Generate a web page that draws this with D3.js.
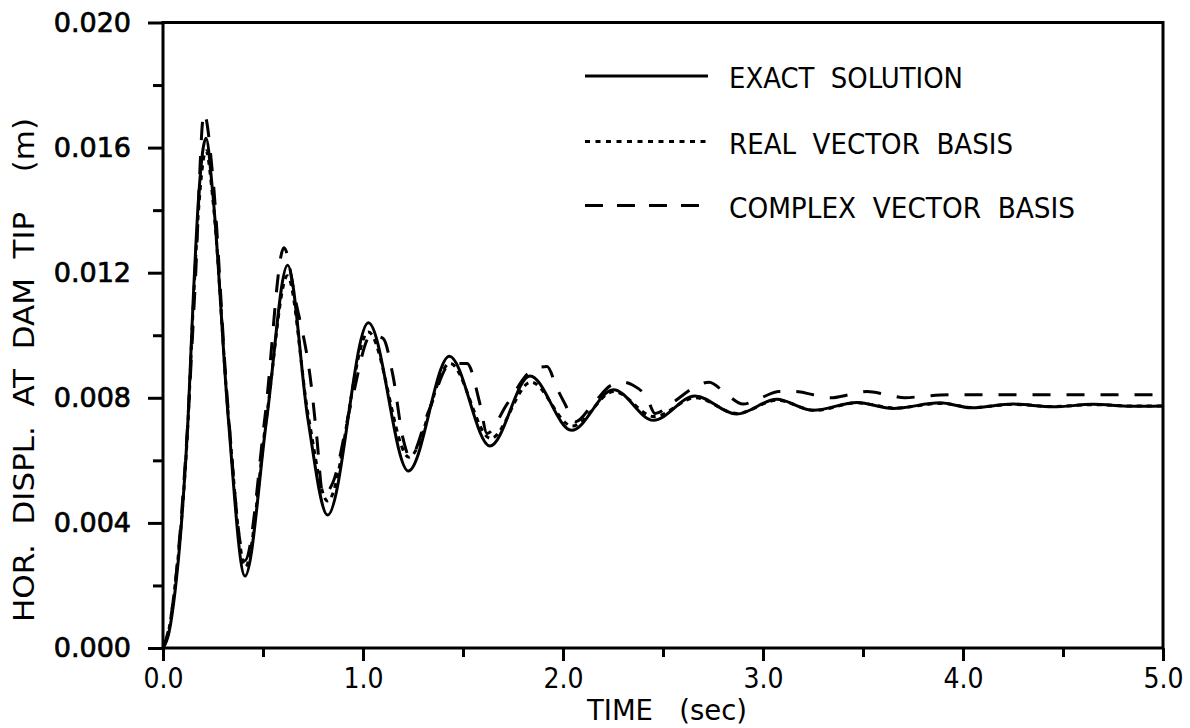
<!DOCTYPE html>
<html>
<head>
<meta charset="utf-8">
<script src="https://cdn.jsdelivr.net/npm/d3@7"></script>
<style>
  body { margin: 0; background: #fff; }
  svg { display: block; }
  .narrow { font-family: "Liberation Sans Narrow", "DejaVu Sans Condensed", "Liberation Sans", sans-serif; white-space: pre; }
</style>
</head>
<body>
<script>
// values (time in sec, displacement in m)
const timeExact = [0, 0.03, 0.06, 0.09, 0.125, 0.15, 0.18, 0.215, 0.248, 0.327, 0.41, 0.518, 0.623, 0.725, 0.823, 1.027, 1.227, 1.432, 1.635, 1.835, 2.043, 2.252, 2.452, 2.66, 2.868, 3.068, 3.25, 3.47, 3.65, 3.885, 4.04, 4.25, 4.45, 4.65, 4.84, 5.0];
const dispExact = [0, 0.0005, 0.0018, 0.0038, 0.0073, 0.0110, 0.0146, 0.0163, 0.0146, 0.0073, 0.0023, 0.0073, 0.01224, 0.0073, 0.00425, 0.0104, 0.00566, 0.00933, 0.00646, 0.0087, 0.00696, 0.00826, 0.00728, 0.00806, 0.00748, 0.00795, 0.0076, 0.00785, 0.00766, 0.00784, 0.00768, 0.0078, 0.00771, 0.00779, 0.00773, 0.00774];

const timeReal = [0, 0.03, 0.06, 0.09, 0.125, 0.15, 0.18, 0.215, 0.25, 0.327, 0.412, 0.518, 0.622, 0.727, 0.823, 1.027, 1.23, 1.435, 1.638, 1.84, 2.046, 2.255, 2.455, 2.663, 2.87, 3.07, 3.26, 3.47, 3.66, 3.89, 4.05, 4.25, 4.45, 4.65, 4.84, 5.0];
const dispReal = [0, 0.0006, 0.0020, 0.0039, 0.0072, 0.0108, 0.0142, 0.0159, 0.0143, 0.0074, 0.0026, 0.0074, 0.0119, 0.0074, 0.0047, 0.0101, 0.0061, 0.0091, 0.0067, 0.0085, 0.0071, 0.0082, 0.0074, 0.0080, 0.0075, 0.00792, 0.0076, 0.00784, 0.00767, 0.00782, 0.00769, 0.00779, 0.00772, 0.00778, 0.00774, 0.00774];

const timeComplex = [0, 0.04, 0.08, 0.12, 0.16, 0.205, 0.25, 0.32, 0.41, 0.51, 0.605, 0.66, 0.743, 0.768, 0.80, 0.85, 0.94, 1.04, 1.10, 1.15, 1.2, 1.235, 1.33, 1.44, 1.52, 1.585, 1.62, 1.72, 1.85, 1.92, 1.97, 2.01, 2.06, 2.15, 2.24, 2.30, 2.35, 2.42, 2.46, 2.56, 2.66, 2.73, 2.82, 2.90, 2.99, 3.08, 3.16, 3.25, 3.34, 3.43, 3.52, 3.62, 3.71, 3.80, 3.95, 4.2, 4.5, 5.0];
const dispComplex = [0, 0.0010, 0.0033, 0.0068, 0.0115, 0.0171, 0.0150, 0.0081, 0.0028, 0.0074, 0.0128, 0.0112, 0.0083, 0.0068, 0.0049, 0.0053, 0.0078, 0.0100, 0.0099, 0.0087, 0.0067, 0.0061, 0.0076, 0.0091, 0.0091, 0.0078, 0.00686, 0.0078, 0.0089, 0.0090, 0.0083, 0.0078, 0.00723, 0.0078, 0.0084, 0.0085, 0.0084, 0.0080, 0.0075, 0.0079, 0.00835, 0.0085, 0.0081, 0.0078, 0.0080, 0.0082, 0.0082, 0.0081, 0.0080, 0.0081, 0.0082, 0.0081, 0.0080, 0.00805, 0.0081, 0.0081, 0.0081, 0.0081];

const xMajor = [0, 1, 2, 3, 4, 5];
const xMinor = [0.5, 1.5, 2.5, 3.5, 4.5];
const yMajor = [0, 0.004, 0.008, 0.012, 0.016, 0.020];
const yMinor = [0.002, 0.006, 0.010, 0.014, 0.018];

const legendLabels = ["EXACT  SOLUTION", "REAL  VECTOR  BASIS", "COMPLEX  VECTOR  BASIS"];

const width = 1190, height = 728;
const margin = { top: 22.5, right: 27, bottom: 80, left: 163 };

const svg = d3.select("body").append("svg")
    .attr("width", width)
    .attr("height", height);

const x = d3.scaleLinear().domain([0, 5]).range([margin.left, width - margin.right]);
const y = d3.scaleLinear().domain([0, 0.02]).range([height - margin.bottom, margin.top]);

// axes: minor ticks, then major ticks with labels
function styleAxis(g) {
    g.select(".domain").remove();
    g.selectAll(".tick line").attr("stroke", "#000").attr("stroke-width", 3);
}

svg.append("g")
    .attr("transform", `translate(0,${y(0)})`)
    .call(d3.axisBottom(x).tickValues(xMinor).tickSize(9).tickFormat(""))
    .call(styleAxis);

svg.append("g")
    .attr("transform", `translate(0,${y(0)})`)
    .call(d3.axisBottom(x).tickValues(xMajor).tickSize(13).tickPadding(7).tickFormat(d3.format(".1f")))
    .call(styleAxis)
    .call(g => g.selectAll("text")
        .attr("class", "narrow")
        .attr("font-size", 28)
        .attr("fill", "#000"));

svg.append("g")
    .attr("transform", `translate(${x(0)},0)`)
    .call(d3.axisLeft(y).tickValues(yMinor).tickSize(10).tickFormat(""))
    .call(styleAxis);

svg.append("g")
    .attr("transform", `translate(${x(0)},0)`)
    .call(d3.axisLeft(y).tickValues(yMajor).tickSize(15).tickPadding(17).tickFormat(d3.format(".3f")))
    .call(styleAxis)
    .call(g => g.selectAll("text")
        .attr("font-family", "'DejaVu Sans', sans-serif")
        .attr("font-size", 27)
        .attr("fill", "#000")
        .attr("stroke", "#000")
        .attr("stroke-width", 0.7));

// frame
svg.append("rect")
    .attr("x", x(0))
    .attr("y", y(0.02))
    .attr("width", x(5) - x(0))
    .attr("height", y(0) - y(0.02))
    .attr("fill", "none")
    .attr("stroke", "#000")
    .attr("stroke-width", 3);

// curves
const series = [
    { t: timeComplex, v: dispComplex, dash: "18,16" },
    { t: timeReal, v: dispReal, dash: "5,5" },
    { t: timeExact, v: dispExact, dash: null }
];

const line = d3.line()
    .x(d => x(d[0]))
    .y(d => y(d[1]))
    .curve(d3.curveMonotoneX);

series.forEach(s => {
    svg.append("path")
        .datum(s.t.map((t, i) => [t, s.v[i]]))
        .attr("d", line)
        .attr("fill", "none")
        .attr("stroke", "#000")
        .attr("stroke-width", 3)
        .attr("stroke-linejoin", "round")
        .attr("stroke-dasharray", s.dash);
});

// legend
const legendY = [76, 141.5, 205.5];
const legendDash = [null, "5,5.5", "18,14"];
const legendWidths = [234, 284, 346];
legendLabels.forEach((label, i) => {
    svg.append("line")
        .attr("x1", 585).attr("x2", 708)
        .attr("y1", legendY[i]).attr("y2", legendY[i])
        .attr("stroke", "#000")
        .attr("stroke-width", 3)
        .attr("stroke-dasharray", legendDash[i]);
    svg.append("text")
        .attr("class", "narrow")
        .attr("x", 729)
        .attr("y", legendY[i] + 12)
        .attr("font-size", 28)
        .attr("textLength", legendWidths[i])
        .attr("lengthAdjust", "spacingAndGlyphs")
        .text(label);
});

// axis titles
svg.append("text")
    .attr("class", "narrow")
    .attr("x", 587)
    .attr("y", 720)
    .attr("font-size", 28)
    .attr("textLength", 160)
    .attr("lengthAdjust", "spacingAndGlyphs")
    .text("TIME   (sec)");

svg.append("text")
    .attr("class", "narrow")
    .attr("transform", "translate(34,622) rotate(-90)")
    .attr("font-size", 28)
    .attr("textLength", 504)
    .attr("lengthAdjust", "spacingAndGlyphs")
    .text("HOR.  DISPL.  AT  DAM  TIP    (m)");
</script>
</body>
</html>
